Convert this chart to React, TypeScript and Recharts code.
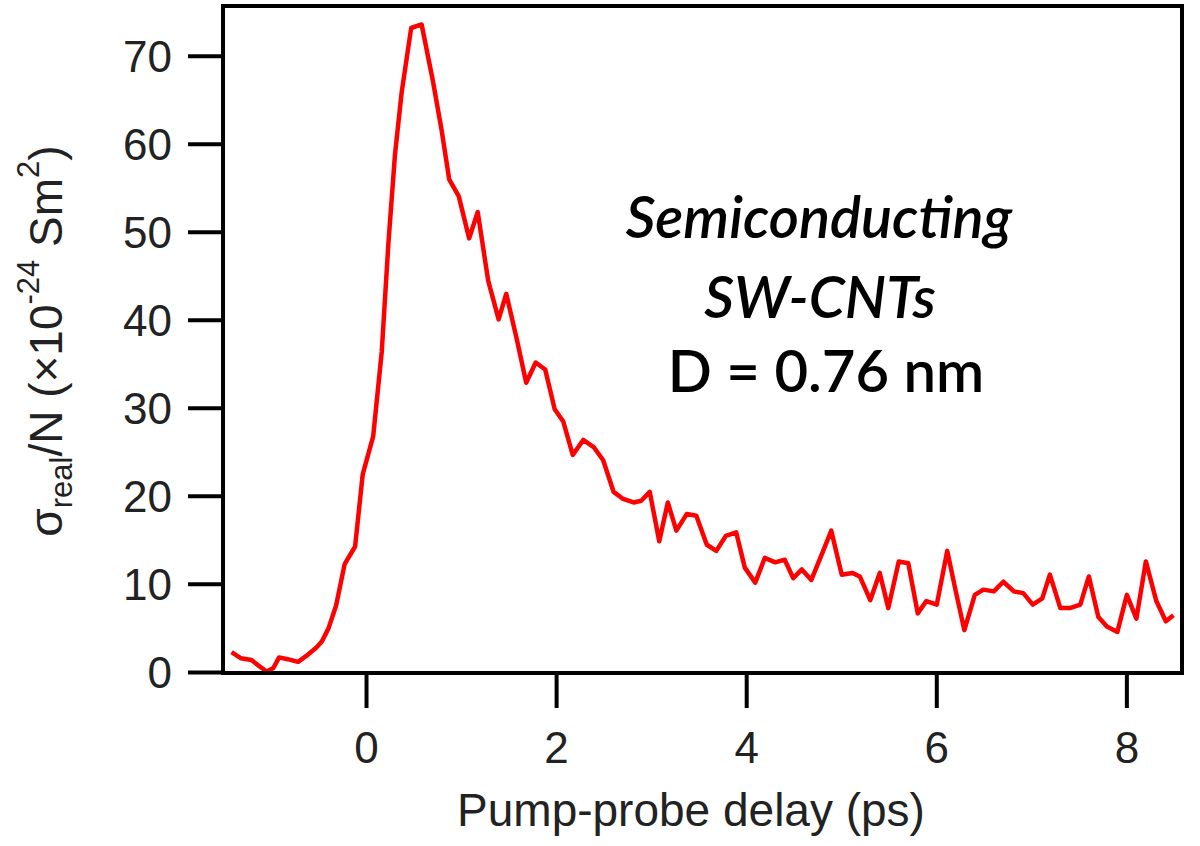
import { LineChart, Line, XAxis, YAxis, ReferenceArea, Customized } from "recharts"

// pump-probe delay (ps)
const delays = [
  -1.42, -1.32, -1.21, -1.14, -1.05, -0.98, -0.92, -0.83, -0.72, -0.63,
  -0.53, -0.47, -0.4, -0.32, -0.23, -0.12, -0.04, 0.07, 0.16, 0.23,
  0.3, 0.37, 0.47, 0.58, 0.7, 0.79, 0.87, 0.97, 1.08, 1.17,
  1.28, 1.39, 1.47, 1.58, 1.68, 1.78, 1.88, 1.98, 2.07, 2.17,
  2.28, 2.39, 2.49, 2.6, 2.7, 2.81, 2.89, 2.98, 3.08, 3.17,
  3.26, 3.37, 3.47, 3.58, 3.68, 3.78, 3.89, 3.98, 4.09, 4.19,
  4.3, 4.4, 4.49, 4.58, 4.68, 4.79, 4.89, 5.0, 5.11, 5.19,
  5.3, 5.4, 5.49, 5.6, 5.7, 5.8, 5.89, 6.0, 6.11, 6.2,
  6.29, 6.4, 6.49, 6.6, 6.7, 6.81, 6.91, 7.01, 7.11, 7.19,
  7.3, 7.4, 7.51, 7.6, 7.7, 7.79, 7.9, 8.0, 8.1, 8.2,
  8.31, 8.41, 8.49,
]

// sigma_real / N (x1e-24 S m^2)
const sigma = [
  2.3, 1.6, 1.4, 0.8, 0.1, 0.5, 1.7, 1.5, 1.2, 1.9,
  2.8, 3.5, 5.0, 7.6, 12.3, 14.3, 22.5, 26.8, 36.4, 48.7,
  58.9, 65.9, 73.2, 73.6, 67.1, 61.6, 56.0, 54.1, 49.3, 52.3,
  44.5, 40.1, 43.0, 37.9, 32.9, 35.2, 34.4, 29.9, 28.5, 24.7,
  26.4, 25.6, 24.1, 20.5, 19.7, 19.3, 19.5, 20.5, 14.9, 19.3,
  16.1, 18.0, 17.8, 14.5, 13.8, 15.5, 15.9, 11.9, 10.2, 13.0,
  12.5, 12.8, 10.7, 11.7, 10.5, 13.4, 16.1, 11.1, 11.3, 10.9,
  8.2, 11.3, 7.3, 12.6, 12.4, 6.7, 8.1, 7.7, 13.8, 9.2,
  4.8, 8.8, 9.4, 9.2, 10.3, 9.2, 9.0, 7.7, 8.4, 11.1,
  7.3, 7.3, 7.7, 10.9, 6.3, 5.2, 4.6, 8.8, 6.1, 12.6,
  8.1, 5.8, 6.5,
]

const xTicks = [0, 2, 4, 6, 8]
const yTicks = [0, 10, 20, 30, 40, 50, 60, 70]
const xDomain = [-1.51, 8.58]
const yDomain = [-0.07, 75.7]
const noteLines = ["Semiconducting", "SW-CNTs", "D = 0.76 nm"]

const data = delays.map((t, i) => ({ t, s: sigma[i] }))

const FONT = "'Liberation Sans', Arial, sans-serif"
const frame = { stroke: "#000", strokeWidth: 4 }
const tickFont = { fontSize: 44, fill: "#222", fontFamily: FONT }

function Labels() {
  return (
    <g>
      <text x={691} y={826} textAnchor="middle" fontSize={46} fill="#222" fontFamily={FONT}>
        Pump-probe delay (ps)
      </text>
      <text
        transform="translate(62,341) rotate(-90)"
        textAnchor="middle"
        fontSize={46}
        fill="#222"
        fontFamily={FONT}
      >
        σ
        <tspan fontSize={31} dy={10}>real</tspan>
        <tspan fontSize={46} dy={-10}>/N (×10</tspan>
        <tspan fontSize={31} dy={-23}>-24</tspan>
        <tspan fontSize={46} dy={23}> Sm</tspan>
        <tspan fontSize={31} dy={-23}>2</tspan>
        <tspan fontSize={46} dy={23}>)</tspan>
      </text>
      <g fontFamily="Lato, 'Noto Sans', sans-serif" fontSize={58} fontWeight={600} fill="#000" textAnchor="middle">
        <text x={819} y={238} fontStyle="italic">{noteLines[0]}</text>
        <text x={820} y={318} fontStyle="italic">{noteLines[1]}</text>
        <text x={826} y={392}>{noteLines[2]}</text>
      </g>
    </g>
  )
}

export default function App() {
  return (
    <div style={{ width: 1200, height: 846, background: "#fff" }}>
      <style>{"body{margin:0}"}</style>
      <LineChart width={1200} height={846} data={data} margin={{ top: 6, right: 18, bottom: 73, left: 123 }}>
        <XAxis
          dataKey="t"
          type="number"
          domain={xDomain}
          allowDataOverflow
          ticks={xTicks}
          height={100}
          tickSize={35}
          tickMargin={24}
          axisLine={frame}
          tickLine={frame}
          tick={tickFont}
        />
        <YAxis
          type="number"
          domain={yDomain}
          allowDataOverflow
          ticks={yTicks}
          width={100}
          tickSize={35}
          tickMargin={16}
          axisLine={frame}
          tickLine={frame}
          tick={tickFont}
        />
        <ReferenceArea
          x1={xDomain[0]}
          x2={xDomain[1]}
          y1={yDomain[0]}
          y2={yDomain[1]}
          fill="none"
          stroke="#000"
          strokeWidth={4}
          ifOverflow="visible"
        />
        <Line
          dataKey="s"
          stroke="#ff0000"
          strokeWidth={4.5}
          strokeLinejoin="round"
          dot={false}
          isAnimationActive={false}
        />
        <Customized component={<Labels />} />
      </LineChart>
    </div>
  )
}
